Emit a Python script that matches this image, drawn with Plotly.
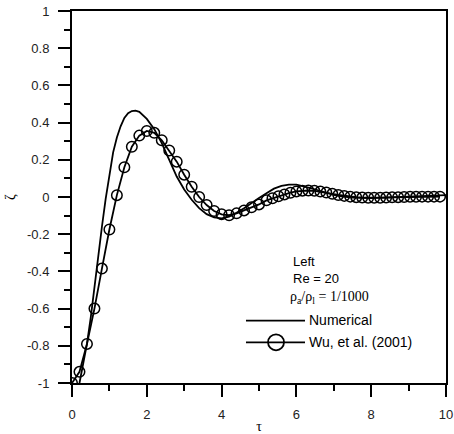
import plotly.graph_objects as go

# Numerical solution
num_tau = [0.2, 0.3, 0.4, 0.5, 0.6, 0.7, 0.8, 0.9, 1.0, 1.1, 1.2, 1.3, 1.4, 1.5, 1.6, 1.7,
           1.8, 1.9, 2.0, 2.2, 2.4, 2.6, 2.8, 3.0, 3.2, 3.4, 3.6, 3.8, 4.0, 4.2, 4.4,
           4.6, 4.8, 5.0, 5.2, 5.4, 5.6, 5.8, 6.0, 6.2, 6.4, 6.6, 6.8, 7.0, 7.2, 7.5,
           8.0, 8.5, 9.0, 9.5, 10.0]
num_zeta = [-1.0, -0.9, -0.79, -0.65, -0.48, -0.32, -0.16, -0.01, 0.12, 0.24, 0.32, 0.38,
            0.425, 0.45, 0.462, 0.464, 0.458, 0.44, 0.42, 0.365, 0.29, 0.2, 0.11, 0.04,
            -0.015, -0.06, -0.092, -0.11, -0.115, -0.105, -0.085, -0.06, -0.03, -0.005,
            0.02, 0.045, 0.06, 0.067, 0.066, 0.058, 0.047, 0.035, 0.022, 0.012, 0.004,
            -0.003, -0.006, -0.003, 0.002, 0.006, 0.01]

# Wu, et al. (2001)
wu_tau = [0.0, 0.2, 0.4, 0.6, 0.8, 1.0, 1.2, 1.4, 1.6, 1.8, 2.0, 2.2, 2.4, 2.6, 2.8, 3.0,
          3.2, 3.4, 3.6, 3.8, 4.0, 4.2, 4.4, 4.6, 4.8, 5.0, 5.2,
          5.36, 5.52, 5.68, 5.84, 6.0, 6.16, 6.32, 6.48, 6.64, 6.8, 6.96, 7.12, 7.28,
          7.44, 7.6, 7.76, 7.92, 8.08, 8.24, 8.4, 8.56, 8.72, 8.88, 9.04, 9.2, 9.36,
          9.52, 9.68, 9.84]
wu_zeta = [-1.0, -0.94, -0.79, -0.6, -0.385, -0.175, 0.01, 0.16, 0.27, 0.33, 0.355, 0.345,
           0.305, 0.25, 0.19, 0.12, 0.055, 0.0, -0.043, -0.075, -0.093, -0.098, -0.088,
           -0.072, -0.055, -0.04, -0.018,
           -0.007, 0.004, 0.014, 0.023, 0.03, 0.034, 0.035, 0.033, 0.029, 0.024, 0.017,
           0.011, 0.006, 0.002, -0.001, -0.003, -0.004, -0.004, -0.004, -0.003, -0.002,
           -0.001, 0.0, 0.001, 0.001, 0.002, 0.002, 0.002, 0.002]

x_ticks = [0, 2, 4, 6, 8, 10]
y_ticks = [-1, -0.8, -0.6, -0.4, -0.2, 0, 0.2, 0.4, 0.6, 0.8, 1]
y_ticktext = ["-1", "-0.8", "-0.6", "-0.4", "-0.2", "0", "0.2", "0.4", "0.6", "0.8", "1"]

SANS = "Arial, Liberation Sans, sans-serif"
SERIF = "Times New Roman, Liberation Serif, serif"

fig = go.Figure()
fig.add_trace(go.Scatter(x=num_tau, y=num_zeta, mode="lines", name="Numerical",
                         line=dict(color="black", width=1.8), showlegend=False))
fig.add_trace(go.Scatter(x=wu_tau, y=wu_zeta, mode="lines+markers", name="Wu, et al. (2001)",
                         line=dict(color="black", width=1.8),
                         marker=dict(symbol="circle-open", size=10.5, color="black",
                                     line=dict(width=1.5, color="black")),
                         showlegend=False))

axis_common = dict(showgrid=False, zeroline=False, showline=True, linecolor="black",
                   linewidth=2, mirror=True, ticks="outside", ticklen=12, tickwidth=1.8,
                   tickcolor="black", automargin=False,
                   tickfont=dict(family=SANS, size=13, color="#222"))

fig.update_xaxes(range=[0, 10], tickvals=x_ticks, ticktext=[str(v) for v in x_ticks],
                 minor=dict(ticks="outside", ticklen=6, tickwidth=1.8, tickcolor="black",
                            dtick=1, tick0=0, showgrid=False),
                 ticklabelstandoff=6,
                 title=dict(text="τ", font=dict(family=SERIF, size=14, color="black"),
                            standoff=4),
                 **axis_common)
fig.update_yaxes(range=[-1, 1], tickvals=y_ticks, ticktext=y_ticktext,
                 minor=dict(ticks="outside", ticklen=6, tickwidth=1.8, tickcolor="black",
                            dtick=0.1, tick0=0, showgrid=False),
                 ticklabelstandoff=6,
                 title=dict(text="ζ", font=dict(family=SERIF, size=14, color="black"),
                            standoff=8),
                 **axis_common)

ann = [
    dict(text="Left", x=0.5845, y=0.326, font=dict(family=SANS, size=13, color="black")),
    dict(text="Re = 20", x=0.5845, y=0.2796, font=dict(family=SANS, size=13, color="black")),
    dict(text="ρ<sub>a</sub>/ρ<sub>l</sub> = 1/1000", x=0.578, y=0.2285,
         font=dict(family=SERIF, size=14, color="black")),
    dict(text="Numerical", x=0.629, y=0.169, font=dict(family=SANS, size=14, color="black")),
    dict(text="Wu, et al. (2001)", x=0.628, y=0.110, font=dict(family=SANS, size=14, color="black")),
]
for a in ann:
    a.update(xref="paper", yref="paper", xanchor="left", yanchor="middle", showarrow=False)

shapes = [
    dict(type="line", xref="paper", yref="paper", x0=0.4652, x1=0.623, y0=0.1675, y1=0.1675,
         line=dict(color="black", width=1.8)),
    dict(type="line", xref="paper", yref="paper", x0=0.4652, x1=0.623, y0=0.1094, y1=0.1094,
         line=dict(color="black", width=1.8)),
    dict(type="circle", xref="paper", yref="paper", xsizemode="pixel", ysizemode="pixel",
         xanchor=0.5455, yanchor=0.1094, x0=-8, x1=8, y0=-8, y1=8,
         line=dict(color="black", width=1.8)),
]

fig.update_layout(width=454, height=434, margin=dict(l=72, r=8, t=11, b=51),
                  paper_bgcolor="white", plot_bgcolor="white",
                  annotations=ann, shapes=shapes, showlegend=False)

fig.write_html("out.html")
